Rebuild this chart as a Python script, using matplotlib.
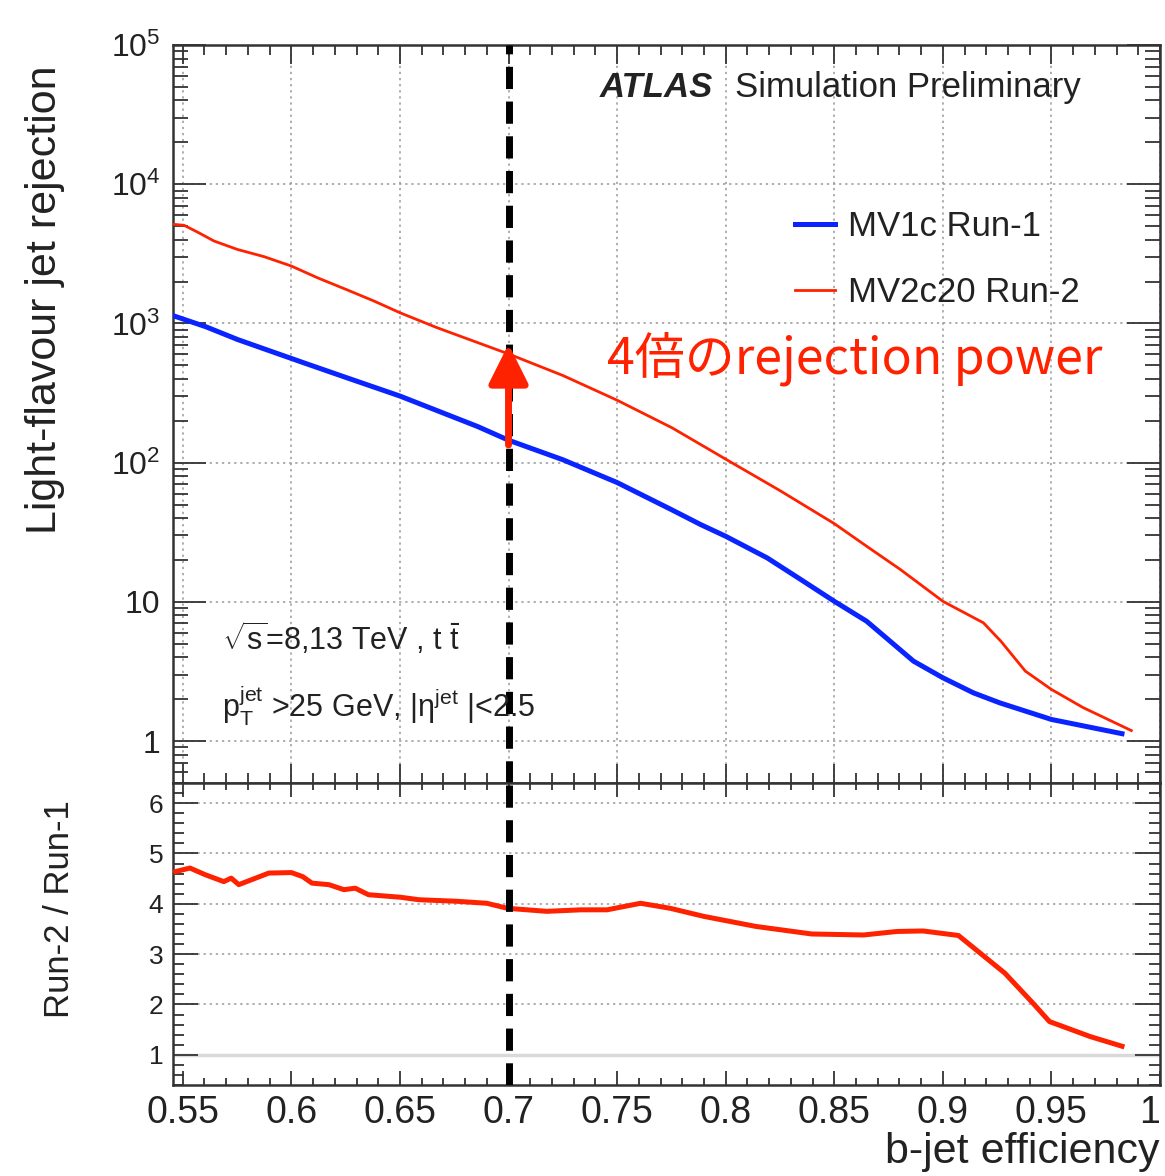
import numpy as np
import matplotlib
matplotlib.use('Agg')
import matplotlib.pyplot as plt
from matplotlib.ticker import FixedLocator, FixedFormatter, MultipleLocator, LogLocator, NullFormatter

plt.rcParams['font.family'] = ['Liberation Sans', 'DejaVu Sans']
plt.rcParams['mathtext.fontset'] = 'custom'
plt.rcParams['mathtext.rm'] = 'Liberation Sans'
plt.rcParams['mathtext.it'] = 'Liberation Sans:italic'
plt.rcParams['mathtext.bf'] = 'Liberation Sans:bold'

# light-flavour rejection vs b-jet efficiency
run1_eff = [0.5461, 0.5607, 0.5752, 0.5905, 0.6058, 0.625, 0.650, 0.6857, 0.700, 0.725,
            0.750, 0.775, 0.7885, 0.800, 0.8191, 0.8345, 0.850, 0.8649, 0.874, 0.8865,
            0.900, 0.9141, 0.9263, 0.950, 0.9825]
run1_rej = [1130, 946, 767, 632, 521, 410, 301, 182, 145, 105,
            72, 46, 35.9, 29.6, 20.7, 14.5, 10.1, 7.26, 5.5, 3.75,
            2.85, 2.22, 1.88, 1.43, 1.13]

run2_eff = [0.546, 0.5506, 0.5567, 0.5644, 0.5752, 0.5874, 0.600, 0.612, 0.6258, 0.638,
            0.650, 0.6672, 0.700, 0.725, 0.750, 0.7753, 0.800, 0.825, 0.850,
            0.8649, 0.8804, 0.900, 0.9187, 0.9268, 0.938, 0.950, 0.9646, 0.9868]
run2_rej = [5150, 5070, 4540, 3910, 3400, 3020, 2585, 2130, 1740, 1450,
            1194, 931, 604, 423, 281, 178, 106, 63, 36.5,
            25.1, 17.1, 10.1, 7.07, 5.2, 3.18, 2.35, 1.74, 1.19]

ratio_eff = [0.5467, 0.5533, 0.5602, 0.5689, 0.5723, 0.5758, 0.5896, 0.600, 0.6052, 0.6095,
             0.6173, 0.6242, 0.6294, 0.6355, 0.6502, 0.6588, 0.6761, 0.690, 0.6995, 0.7176,
             0.7334, 0.7454, 0.7608, 0.7745, 0.7899, 0.8139, 0.8396, 0.8635, 0.8789, 0.8909,
             0.9072, 0.9286, 0.9414, 0.9491, 0.968, 0.9825]
ratio_val = [4.64, 4.71, 4.58, 4.44, 4.51, 4.38, 4.61, 4.62, 4.54, 4.41,
             4.38, 4.28, 4.31, 4.18, 4.13, 4.08, 4.05, 4.01, 3.91, 3.85,
             3.88, 3.88, 4.01, 3.91, 3.75, 3.55, 3.40, 3.38, 3.45, 3.46,
             3.37, 2.62, 2.03, 1.66, 1.36, 1.17]

wp_eff = 0.70          # working point marked by the dashed line
arrow_from = 134       # Run-1 rejection at the working point
arrow_to = 711         # Run-2 rejection at the working point

rej_ticks = [1, 10, 100, 1000, 1e4, 1e5]
rej_labels = ['1', '10', '$10^{2}$', '$10^{3}$', '$10^{4}$', '$10^{5}$']
eff_ticks = [0.55, 0.6, 0.65, 0.7, 0.75, 0.8, 0.85, 0.9, 0.95, 1.0]
eff_labels = ['0.55', '0.6', '0.65', '0.7', '0.75', '0.8', '0.85', '0.9', '0.95', '1']

blue = '#0a24ff'
red = '#ff2200'
spine_col = '#333333'
text_col = '#222222'
grid_ls = (0, (1.5, 2.5))

fig = plt.figure(figsize=(11.65, 11.76), dpi=100)
ax1 = fig.add_axes([0.1485, 0.3342, 0.8472, 0.6275])
ax2 = fig.add_axes([0.1485, 0.0774, 0.8472, 0.2568], sharex=ax1)

# --- top panel
ax1.plot(run1_eff, run1_rej, color=blue, lw=3.6, label='MV1c Run-1', zorder=3)
ax1.plot(run2_eff, run2_rej, color=red, lw=2.0, label='MV2c20 Run-2', zorder=3)
ax1.set_yscale('log')
ax1.set_ylim(0.5, 1e5)
ax1.set_xlim(0.5455, 1.0)
ax1.yaxis.set_major_locator(FixedLocator(rej_ticks))
ax1.yaxis.set_major_formatter(FixedFormatter(rej_labels))
ax1.yaxis.set_minor_locator(LogLocator(base=10, subs=np.arange(2, 10)))
ax1.yaxis.set_minor_formatter(NullFormatter())
ax1.xaxis.set_major_locator(FixedLocator(eff_ticks))
ax1.xaxis.set_minor_locator(MultipleLocator(0.01))
ax1.grid(True, which='major', ls=grid_ls, color='#999999', lw=1.1)
ax1.tick_params(which='both', direction='in', top=True, right=True, labelbottom=False,
                colors=spine_col, labelcolor=text_col, width=1.3)
ax1.tick_params(axis='y', which='major', length=24, labelsize=23, pad=9)
ax1.tick_params(axis='y', which='minor', length=11)
ax1.tick_params(axis='x', which='major', length=14)
ax1.tick_params(axis='x', which='minor', length=7)
ax1.axvline(wp_eff, color='black', lw=5, dashes=(3.2, 1.8), zorder=4)
ax1.annotate('', xy=(wp_eff, arrow_to), xytext=(wp_eff, arrow_from),
             arrowprops=dict(arrowstyle='-|>,head_length=2.4,head_width=1.2',
                             color=red, lw=5, shrinkA=0, shrinkB=0),
             zorder=5)

leg = ax1.legend(loc='upper left', bbox_to_anchor=(0.6824, 0.8215),
                 bbox_transform=fig.transFigure, frameon=False, fontsize=25,
                 handlelength=1.15, handletextpad=0.37, labelspacing=0.95,
                 borderpad=0, borderaxespad=0)
for t in leg.get_texts():
    t.set_color(text_col)

# --- ratio panel
ax2.plot(ratio_eff, ratio_val, color=red, lw=3.6, zorder=3)
ax2.axhline(1, color='#d9d9d9', lw=2.5, zorder=1)
ax2.set_ylim(0.4, 6.4)
ax2.yaxis.set_major_locator(MultipleLocator(1))
ax2.yaxis.set_minor_locator(MultipleLocator(0.2))
ax2.xaxis.set_major_locator(FixedLocator(eff_ticks))
ax2.xaxis.set_major_formatter(FixedFormatter(eff_labels))
ax2.xaxis.set_minor_locator(MultipleLocator(0.01))
for y in [2, 3, 4, 5, 6]:
    ax2.axhline(y, ls=grid_ls, color='#999999', lw=1.1, zorder=1)
ax2.tick_params(which='both', direction='in', top=True, right=True,
                colors=spine_col, labelcolor=text_col, width=1.3)
ax2.tick_params(axis='y', which='major', length=18, labelsize=19, pad=7)
ax2.tick_params(axis='y', which='minor', length=8)
ax2.tick_params(axis='x', which='major', length=10, labelsize=27, pad=7)
ax2.tick_params(axis='x', which='minor', length=5)
ax2.axvline(wp_eff, color='black', lw=5, dashes=(3.2, 1.8), zorder=4)

for ax in (ax1, ax2):
    for s in ax.spines.values():
        s.set_color(spine_col)
        s.set_linewidth(1.8)

# keep the "1" at the right corner inside the picture
fig.canvas.draw()
ax2.get_xticklabels()[-1].set_horizontalalignment('right')

# --- labels and annotations
fig.text(0.0386, 0.9447, 'Light-flavour jet rejection', rotation=90,
         ha='center', va='top', fontsize=31, color=text_col)
fig.text(0.0515, 0.3197, 'Run-2 / Run-1', rotation=90,
         ha='center', va='top', fontsize=25, color=text_col)
fig.text(0.9957, 0.011, 'b-jet efficiency', ha='right', va='baseline',
         fontsize=31, color=text_col)

fig.text(600 / 1165, 1 - 97 / 1176, 'ATLAS', fontsize=25, fontweight='bold',
         style='italic', va='baseline', color=text_col)
fig.text(735 / 1165, 1 - 97 / 1176, 'Simulation Preliminary', fontsize=25,
         va='baseline', color=text_col)

fig.text(222 / 1165, 1 - 650 / 1176, r'$\sqrt{\mathrm{s}}$=8,13 TeV , t $\bar{\mathrm{t}}$',
         fontsize=22, va='baseline', color=text_col)
fig.text(222 / 1165, 1 - 718 / 1176,
         r'$\mathrm{p}_{\mathrm{T}}^{\mathrm{jet}}$ >25 GeV, $|\mathrm{η}^{\mathrm{jet}}$ |<2.5',
         fontsize=22, va='baseline', color=text_col)

fig.text(607 / 1165, 1 - 373 / 1176, '4倍のrejection power', fontsize=36,
         color=red, va='baseline', family=['Noto Sans CJK JP', 'DejaVu Sans'])

fig.savefig('out.png', dpi=100)
